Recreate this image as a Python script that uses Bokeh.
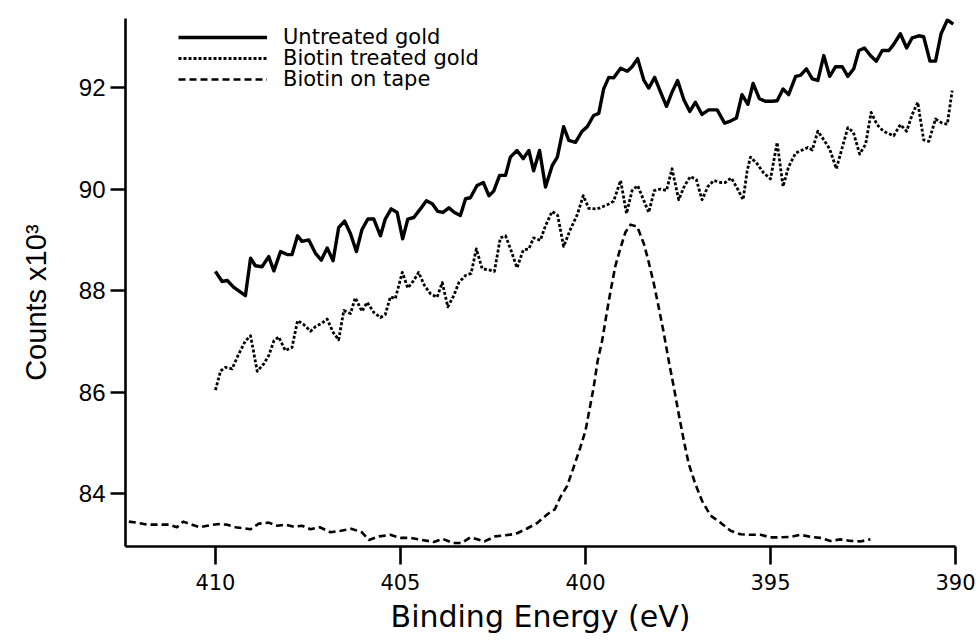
from bokeh.plotting import figure
from bokeh.models import Range1d, Legend, LegendItem, FixedTicker
from bokeh.embed import file_html
from bokeh.resources import INLINE

# --- XPS N 1s region: binding energy (eV) and counts (x10^3) ---
untreated_ev = [
    410.00, 409.82, 409.68, 409.51, 409.19, 409.05, 408.92, 408.74, 408.56, 408.42,
    408.24, 408.06, 407.93, 407.78, 407.66, 407.48, 407.30, 407.14, 406.98, 406.82,
    406.67, 406.51, 406.35, 406.19, 406.04, 405.88, 405.72, 405.54, 405.41, 405.25,
    405.09, 404.94, 404.80, 404.64, 404.46, 404.30, 404.14, 403.99, 403.85, 403.69,
    403.54, 403.38, 403.24, 403.11, 402.93, 402.76, 402.61, 402.48, 402.32, 402.16,
    402.03, 401.85, 401.68, 401.53, 401.40, 401.24, 401.08, 400.90, 400.76, 400.59,
    400.45, 400.27, 400.09, 399.95, 399.78, 399.64, 399.51, 399.37, 399.24, 399.05,
    398.87, 398.74, 398.59, 398.42, 398.29, 398.13, 397.97, 397.81, 397.66, 397.51,
    397.34, 397.18, 397.03, 396.85, 396.67, 396.44, 396.24, 396.08, 395.92, 395.77,
    395.61, 395.47, 395.30, 395.14, 394.95, 394.82, 394.66, 394.51, 394.32, 394.19,
    394.03, 393.87, 393.72, 393.56, 393.40, 393.24, 393.06, 392.91, 392.75, 392.61,
    392.46, 392.30, 392.14, 391.98, 391.80, 391.67, 391.49, 391.32, 391.17, 390.99,
    390.86, 390.69, 390.54, 390.39, 390.22, 390.06,
]
untreated_counts = [
    88.38, 88.18, 88.20, 88.07, 87.90, 88.64, 88.49, 88.47, 88.67, 88.39,
    88.77, 88.71, 88.71, 89.08, 88.97, 89.00, 88.74, 88.60, 88.84, 88.59,
    89.24, 89.37, 89.12, 88.77, 89.20, 89.41, 89.41, 89.08, 89.41, 89.61,
    89.54, 89.02, 89.41, 89.44, 89.61, 89.77, 89.71, 89.56, 89.54, 89.63,
    89.54, 89.48, 89.81, 89.83, 90.07, 90.13, 89.87, 89.96, 90.27, 90.27,
    90.63, 90.76, 90.60, 90.76, 90.36, 90.76, 90.04, 90.46, 90.63, 91.23,
    90.96, 90.92, 91.14, 91.23, 91.45, 91.49, 91.97, 92.20, 92.19, 92.38,
    92.32, 92.41, 92.57, 92.14, 91.99, 92.20, 91.91, 91.63, 91.91, 92.14,
    91.76, 91.53, 91.71, 91.47, 91.56, 91.56, 91.30, 91.34, 91.40, 91.86,
    91.67, 92.08, 91.78, 91.73, 91.73, 91.74, 91.97, 91.86, 92.22, 92.24,
    92.37, 92.17, 92.14, 92.63, 92.22, 92.41, 92.41, 92.22, 92.37, 92.73,
    92.78, 92.63, 92.52, 92.73, 92.73, 92.85, 93.06, 92.78, 92.98, 93.02,
    93.00, 92.52, 92.52, 93.06, 93.33, 93.25,
]

treated_ev = [
    410.00, 409.86, 409.73, 409.55, 409.37, 409.19, 409.05, 408.87, 408.69, 408.56,
    408.42, 408.29, 408.11, 407.93, 407.78, 407.61, 407.43, 407.30, 407.12, 406.98,
    406.82, 406.67, 406.53, 406.35, 406.22, 406.04, 405.90, 405.72, 405.54, 405.41,
    405.27, 405.14, 404.95, 404.80, 404.64, 404.51, 404.35, 404.19, 404.01, 403.87,
    403.72, 403.56, 403.42, 403.24, 403.09, 402.95, 402.79, 402.61, 402.46, 402.30,
    402.16, 402.01, 401.85, 401.68, 401.53, 401.40, 401.22, 401.08, 400.90, 400.75,
    400.59, 400.41, 400.22, 400.06, 399.91, 399.68, 399.41, 399.24, 399.05, 398.89,
    398.74, 398.59, 398.42, 398.29, 398.14, 397.97, 397.81, 397.66, 397.48, 397.32,
    397.16, 397.00, 396.85, 396.69, 396.53, 396.35, 396.22, 396.06, 395.90, 395.74,
    395.63, 395.54, 395.36, 395.20, 395.00, 394.82, 394.66, 394.51, 394.32, 394.14,
    393.99, 393.87, 393.72, 393.56, 393.40, 393.22, 393.06, 392.91, 392.76, 392.59,
    392.43, 392.28, 392.12, 391.95, 391.80, 391.67, 391.49, 391.32, 391.17, 391.02,
    390.86, 390.72, 390.54, 390.36, 390.22, 390.09,
]
treated_counts = [
    86.04, 86.42, 86.49, 86.46, 86.75, 87.01, 87.11, 86.41, 86.56, 86.72,
    87.01, 87.09, 86.82, 86.88, 87.41, 87.33, 87.20, 87.29, 87.36, 87.44,
    87.18, 87.03, 87.61, 87.55, 87.86, 87.59, 87.77, 87.57, 87.47, 87.53,
    87.88, 87.84, 88.36, 88.05, 88.20, 88.36, 88.10, 87.94, 87.87, 88.16,
    87.68, 87.90, 88.16, 88.30, 88.34, 88.82, 88.43, 88.41, 88.38, 89.04,
    89.08, 88.79, 88.45, 88.80, 88.82, 89.04, 88.99, 89.28, 89.56, 89.48,
    88.87, 89.20, 89.50, 89.87, 89.62, 89.61, 89.69, 89.76, 90.17, 89.52,
    89.97, 90.07, 89.77, 89.54, 89.97, 90.00, 89.97, 90.40, 89.79, 90.07,
    90.25, 90.18, 89.79, 90.05, 90.17, 90.13, 90.13, 90.22, 90.02, 89.79,
    90.36, 90.63, 90.50, 90.33, 90.20, 90.92, 90.05, 90.44, 90.71, 90.77,
    90.82, 90.77, 91.14, 90.97, 90.79, 90.40, 90.82, 91.21, 91.12, 90.69,
    90.88, 91.51, 91.27, 91.14, 91.09, 91.05, 91.27, 91.14, 91.47, 91.71,
    90.97, 90.94, 91.38, 91.30, 91.28, 91.94,
]

tape_ev = [
    412.34, 412.12, 411.85, 411.58, 411.26, 411.04, 410.87, 410.63, 410.42, 410.22,
    409.95, 409.68, 409.46, 409.24, 409.05, 408.83, 408.56, 408.33, 408.11, 407.88,
    407.66, 407.43, 407.18, 406.89, 406.61, 406.33, 406.04, 405.85, 405.57, 405.28,
    405.00, 404.72, 404.43, 404.10, 403.86, 403.58, 403.34, 403.11, 402.73, 402.44,
    402.16, 401.88, 401.59, 401.31, 401.02, 400.83, 400.68, 400.49, 400.32, 400.14,
    400.00, 399.88, 399.78, 399.67, 399.55, 399.43, 399.32, 399.19, 399.05, 398.92,
    398.78, 398.60, 398.42, 398.29, 398.15, 398.02, 397.88, 397.75, 397.61, 397.48,
    397.34, 397.21, 397.03, 396.85, 396.62, 396.35, 396.08, 395.81, 395.54, 395.27,
    395.00, 394.73, 394.46, 394.19, 393.92, 393.65, 393.38, 393.11, 392.84, 392.57,
    392.30,
]
tape_counts = [
    83.45, 83.43, 83.39, 83.39, 83.39, 83.34, 83.45, 83.39, 83.34, 83.37,
    83.40, 83.39, 83.34, 83.32, 83.30, 83.41, 83.43, 83.37, 83.39, 83.35,
    83.37, 83.30, 83.34, 83.24, 83.27, 83.31, 83.24, 83.09, 83.16, 83.19,
    83.13, 83.13, 83.09, 83.05, 83.11, 83.03, 83.03, 83.14, 83.06, 83.16,
    83.18, 83.21, 83.31, 83.42, 83.60, 83.69, 83.93, 84.16, 84.52, 84.91,
    85.24, 85.70, 86.09, 86.62, 87.01, 87.54, 88.00, 88.49, 88.85, 89.15,
    89.30, 89.26, 88.92, 88.56, 88.13, 87.67, 87.15, 86.62, 86.09, 85.57,
    85.04, 84.59, 84.19, 83.86, 83.57, 83.43, 83.27, 83.20, 83.19, 83.19,
    83.14, 83.14, 83.15, 83.19, 83.15, 83.13, 83.07, 83.10, 83.07, 83.06,
    83.10,
]

x_ticks = [410, 405, 400, 395, 390]
y_ticks = [84, 86, 88, 90, 92]

series_names = ["Untreated gold", "Biotin treated gold", "Biotin on tape"]

p = figure(
    width=980, height=643,
    output_backend="svg", toolbar_location=None,
    x_range=Range1d(412.43, 390.0),
    y_range=Range1d(82.96, 93.36),
    min_border_left=125, min_border_right=25,
    min_border_top=18, min_border_bottom=97,
)
p.outline_line_color = None
p.xgrid.grid_line_color = None
p.ygrid.grid_line_color = None
p.background_fill_color = "white"
p.border_fill_color = "white"

r_untreated = p.line(untreated_ev, untreated_counts, line_color="black",
                     line_width=3.4, line_join="round")
r_treated = p.line(treated_ev, treated_counts, line_color="black",
                   line_width=2.8, line_dash="3 2", line_join="round")
r_tape = p.line(tape_ev, tape_counts, line_color="black",
                line_width=2.6, line_dash="7 4", line_join="round")

# axes: thick black lines, outward ticks only
for ax in (p.xaxis[0], p.yaxis[0]):
    ax.axis_line_width = 2.6
    ax.axis_line_color = "black"
    ax.major_tick_line_width = 2.6
    ax.major_tick_line_color = "black"
    ax.major_tick_in = 0
    ax.minor_tick_in = 0
    ax.minor_tick_out = 0
    ax.major_label_text_color = "black"
    ax.axis_label_text_color = "black"
    ax.axis_label_text_font_style = "normal"

xa = p.xaxis[0]
xa.ticker = FixedTicker(ticks=x_ticks)
xa.major_tick_out = 18
xa.major_label_standoff = 9
xa.major_label_text_font = "DejaVu Sans"
xa.major_label_text_font_size = "21px"
xa.axis_label = "Binding Energy (eV)"
xa.axis_label_text_font = "DejaVu Sans"
xa.axis_label_text_font_size = "30px"
xa.axis_label_standoff = 6

ya = p.yaxis[0]
ya.ticker = FixedTicker(ticks=y_ticks)
ya.major_tick_out = 15
ya.major_label_standoff = 5
ya.major_label_text_font = "Liberation Sans"
ya.major_label_text_font_size = "24px"
# trailing no-break spaces push the rotated title a little down the axis
ya.axis_label = "Counts x10\u00b3" + "\u00a0" * 5
ya.axis_label_text_font = "Liberation Sans"
ya.axis_label_text_font_size = "29px"
ya.axis_label_standoff = 24

# one legend per row so the rows can sit tightly together
rows_y = [497, 476, 455]
for name, rend, vy in zip(series_names, [r_untreated, r_treated, r_tape], rows_y):
    lg = Legend(items=[LegendItem(label=name, renderers=[rend])],
                location=(53, vy), glyph_width=89, glyph_height=20,
                label_height=20, label_standoff=16, padding=0, margin=0,
                spacing=0, border_line_color=None, background_fill_alpha=0,
                label_text_font="DejaVu Sans", label_text_font_size="21px",
                label_text_color="black")
    p.add_layout(lg, "center")

open("out.html", "w").write(file_html(p, INLINE))
